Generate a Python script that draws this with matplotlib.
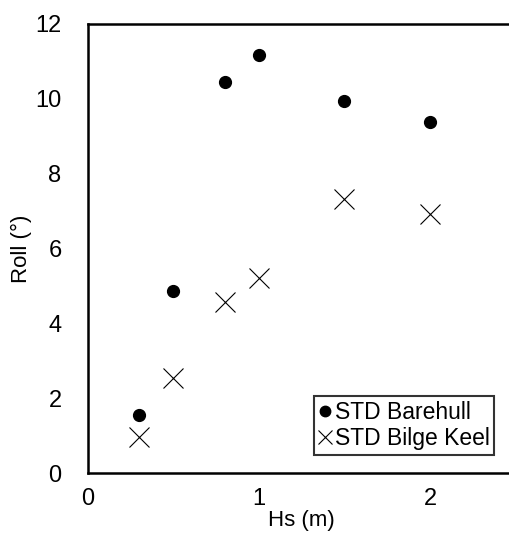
import matplotlib.pyplot as plt

plt.rcParams['font.family'] = ['Liberation Sans', 'DejaVu Sans']

hs = [0.3, 0.5, 0.8, 1.0, 1.5, 2.0]
roll_barehull = [1.55, 4.87, 10.45, 11.17, 9.95, 9.38]
roll_bilge_keel = [0.96, 2.54, 4.57, 5.21, 7.33, 6.93]

W, H = 510, 534
fig = plt.figure(figsize=(W / 100, H / 100), dpi=100)
# axes run past the right edge of the figure, as in the reference
ax = fig.add_axes([88 / W, (H - 473) / H, 2.5 * 171 / W, (473 - 24) / H])

ax.plot(hs, roll_barehull, 'o', color='black', markersize=8.5, label='STD Barehull')
ax.plot(hs, roll_bilge_keel, 'x', color='black', markersize=14, markeredgewidth=0.8,
        label='STD Bilge Keel')

ax.set_xlim(0, 2.5)
ax.set_ylim(0, 12)
ax.set_xticks([0, 1, 2])
ax.set_yticks(range(0, 13, 2))
ax.tick_params(length=0, labelsize=17, pad=11)
ax.tick_params(axis='y', pad=19)
for s in ax.spines.values():
    s.set_linewidth(1.8)
ax.spines['right'].set_visible(False)

ax.set_xlabel('Hs (m)', fontsize=16)
ax.set_ylabel('Roll (°)', fontsize=16)
ax.xaxis.set_label_coords(0.5, -0.083)
ax.yaxis.set_label_coords(-0.131, 0.5)

leg = ax.legend(loc='lower right', bbox_to_anchor=(406 / 427.5, 0.04), fontsize=16.5,
                frameon=True, fancybox=False, handlelength=0.55, handletextpad=0.15,
                borderpad=0.2, labelspacing=0.15, borderaxespad=0)
leg.get_frame().set_edgecolor('black')
leg.get_frame().set_linewidth(1.5)
leg.legend_handles[0].set_markersize(7.5)
leg.legend_handles[1].set_markersize(10)

fig.savefig('out.png', dpi=100)
